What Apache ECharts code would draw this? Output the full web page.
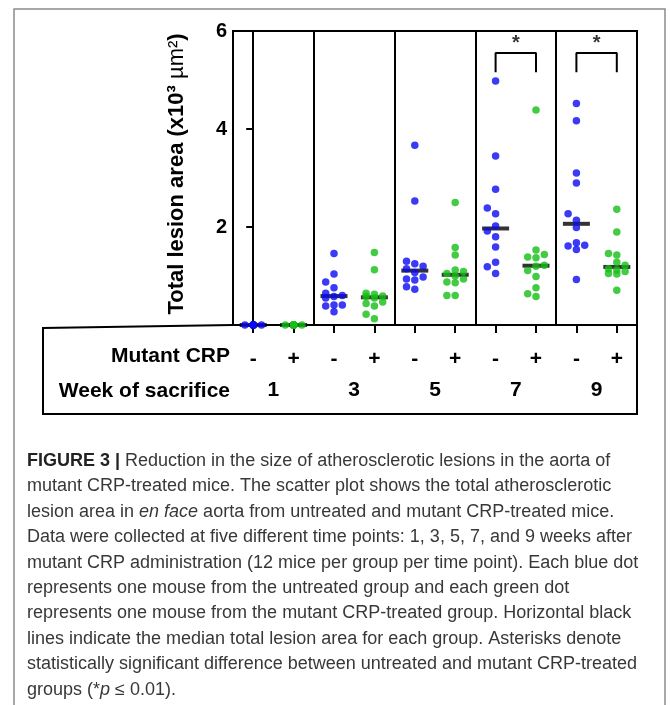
<!DOCTYPE html>
<html>
<head>
<meta charset="utf-8">
<script src="https://cdn.jsdelivr.net/npm/echarts@6/dist/echarts.min.js"></script>
<style>
html,body{margin:0;padding:0;background:#fff;}
#chart{width:670px;height:705px;}
</style>
</head>
<body>
<div id="chart"></div>
<script>
// ---- tick / category labels ----
const mutantLabels = ['-', '+', '-', '+', '-', '+', '-', '+', '-', '+'];
const weekLabels = ['1', '3', '5', '7', '9'];
const significantWeeks = ['7', '9'];

// ---- data: total lesion area (x10^3 µm^2), 12 mice per group ----
const wk1Untreated = [0, 0, 0, 0, 0, 0, 0, 0, 0, 0, 0, 0];
const wk1Treated   = [0, 0, 0, 0, 0, 0, 0, 0, 0, 0, 0, 0];
const wk3Untreated = [1.46, 1.04, 0.88, 0.76, 0.65, 0.58, 0.55, 0.60, 0.41, 0.41, 0.39, 0.27];
const wk3Treated   = [1.48, 1.13, 0.63, 0.65, 0.44, 0.47, 0.39, 0.22, 0.13, 0.59, 0.58, 0.55];
const wk5Untreated = [3.67, 2.53, 1.25, 1.30, 1.20, 1.15, 1.07, 0.94, 0.92, 0.98, 0.78, 0.73];
const wk5Treated   = [2.50, 1.58, 1.43, 1.12, 1.05, 1.09, 0.88, 0.86, 0.94, 0.60, 0.60, 1.00];
const wk7Untreated = [4.98, 3.45, 2.77, 2.39, 2.27, 2.02, 1.92, 1.80, 1.59, 1.28, 1.19, 1.05];
const wk7Treated   = [4.39, 1.53, 1.44, 1.39, 1.37, 1.20, 1.11, 0.99, 0.76, 0.64, 0.58, 1.22];
const wk9Untreated = [4.52, 4.17, 3.10, 2.90, 2.27, 2.14, 1.99, 1.68, 1.61, 1.63, 1.54, 0.93];
const wk9Treated   = [2.36, 1.90, 1.46, 1.43, 1.28, 1.22, 1.15, 1.12, 1.09, 1.05, 1.04, 0.71];

const untreatedGroups = [wk1Untreated, wk3Untreated, wk5Untreated, wk7Untreated, wk9Untreated];
const treatedGroups = [wk1Treated, wk3Treated, wk5Treated, wk7Treated, wk9Treated];

// ---- layout constants ----
const W = 670, H = 705;
const GL = 233, GR = 637, GT = 31, GB = 325;
const PX_PER_CAT = (GR - GL) / 10;
const PX_PER_UNIT = (GB - GT) / 6;
const BLUE = '#0a0af2';
const GREEN = '#14bf14';
const FONT = "'Liberation Sans', Arial, Helvetica, sans-serif";

function median(a) {
  const s = a.slice().sort((x, y) => x - y);
  const n = s.length;
  return n % 2 ? s[(n - 1) / 2] : (s[n / 2 - 1] + s[n / 2]) / 2;
}

// simple 3-column beeswarm layout around a category centre
function swarm(vals, center) {
  const STEP = 8.3, DIAM = 7;
  const placed = [], out = [];
  const order = vals.map((v, i) => i).sort((a, b) => vals[a] - vals[b]);
  for (const i of order) {
    const py = vals[i] * PX_PER_UNIT;
    let best = 0, bestD = -1;
    for (const c of [0, -1, 1]) {
      const px = c * STEP;
      let dmin = Infinity;
      for (const p of placed) dmin = Math.min(dmin, Math.hypot(p[0] - px, p[1] - py));
      if (dmin >= DIAM) { best = c; bestD = Infinity; break; }
      if (dmin > bestD) { bestD = dmin; best = c; }
    }
    placed.push([best * STEP, py]);
    out[i] = [center + best * STEP / PX_PER_CAT, vals[i]];
  }
  return out;
}

const blueData = [], greenData = [], medianData = [];
untreatedGroups.forEach((g, k) => {
  blueData.push(...swarm(g, 2 * k));
  medianData.push([2 * k, median(g)]);
});
treatedGroups.forEach((g, k) => {
  greenData.push(...swarm(g, 2 * k + 1));
  medianData.push([2 * k + 1, median(g)]);
});

const BR_TOP = 5.55, BR_LEG = 5.16, STAR_Y = 5.74;
const bracketData = [];
const starData = [];
significantWeeks.forEach(w => {
  const k = weekLabels.indexOf(w);
  const a = 2 * k, b = 2 * k + 1;
  if (bracketData.length) bracketData.push(['-', '-']);
  bracketData.push([a, BR_LEG], [a, BR_TOP], [b, BR_TOP], [b, BR_LEG]);
  starData.push([(a + b) / 2, STAR_Y]);
});

const chart = echarts.init(document.getElementById('chart'), null, {renderer: 'canvas', width: W, height: H});

const caption =
  '{b|FIGURE 3 |} Reduction in the size of atherosclerotic lesions in the aorta of\n' +
  'mutant CRP-treated mice. The scatter plot shows the total atherosclerotic\n' +
  'lesion area in {i|en face} aorta from untreated and mutant CRP-treated mice.\n' +
  'Data were collected at five different time points: 1, 3, 5, 7, and 9 weeks after\n' +
  'mutant CRP administration (12 mice per group per time point). Each blue dot\n' +
  'represents one mouse from the untreated group and each green dot\n' +
  'represents one mouse from the mutant CRP-treated group. Horizontal black\n' +
  'lines indicate the median total lesion area for each group. Asterisks denote\n' +
  'statistically significant difference between untreated and mutant CRP-treated\n' +
  'groups (*{i|p} ≤ 0.01).';

const CAP_FS = 18, CAP_LH = 25.4, CAP_COL = '#383838';

const option = {
  animation: false,
  backgroundColor: '#fff',
  grid: {left: GL, right: W - GR, top: GT, bottom: H - GB, show: true, borderColor: '#000', borderWidth: 2, backgroundColor: 'transparent'},
  xAxis: [
    {
      type: 'category', data: mutantLabels, position: 'bottom', boundaryGap: true,
      axisLine: {show: true, lineStyle: {color: '#000', width: 2}},
      axisTick: {show: true, alignWithLabel: true, length: 8, lineStyle: {color: '#000', width: 2}},
      axisLabel: {color: '#000', fontSize: 21, fontWeight: 'bold', fontFamily: FONT, margin: 24, interval: 0},
      splitLine: {show: false}
    },
    {
      type: 'category', data: weekLabels, position: 'bottom', boundaryGap: true,
      axisLine: {show: false}, axisTick: {show: false},
      axisLabel: {color: '#000', fontSize: 21, fontWeight: 'bold', fontFamily: FONT, margin: 55, interval: 0},
      splitLine: {show: true, interval: 0, lineStyle: {color: '#000', width: 2}}
    },
    {
      type: 'value', min: -0.5, max: 9.5, show: false, splitLine: {show: false}
    }
  ],
  yAxis: {
    type: 'value', min: 0, max: 6, interval: 2,
    axisLine: {show: true, lineStyle: {color: '#000', width: 2}},
    axisTick: {show: true, length: 7, lineStyle: {color: '#000', width: 2}},
    axisLabel: {color: '#000', fontSize: 20, fontWeight: 'bold', fontFamily: FONT, margin: 6,
      formatter: v => (v === 0 ? '' : String(v))},
    splitLine: {show: false}
  },
  series: [
    {
      name: 'median', type: 'scatter', xAxisIndex: 2, data: medianData, z: 2, clip: false,
      symbol: 'rect', symbolSize: [27, 4], itemStyle: {color: '#000'}, silent: true
    },
    {
      name: 'untreated', type: 'scatter', xAxisIndex: 2, data: blueData, z: 3, clip: false,
      symbol: 'circle', symbolSize: 7.5, itemStyle: {color: BLUE}
    },
    {
      name: 'mutant CRP', type: 'scatter', xAxisIndex: 2, data: greenData, z: 3, clip: false,
      symbol: 'circle', symbolSize: 7.5, itemStyle: {color: GREEN}
    },
    {
      name: 'bracket', type: 'line', xAxisIndex: 2, data: bracketData, symbol: 'none', z: 4,
      connectNulls: false, lineStyle: {color: '#000', width: 2}, clip: false
    },
    {
      name: 'star', type: 'scatter', xAxisIndex: 2, data: starData, symbolSize: 1, z: 4,
      itemStyle: {color: 'transparent'}, clip: false,
      label: {show: true, position: 'inside', formatter: '*', color: '#000', fontSize: 20, fontWeight: 'bold', fontFamily: FONT}
    }
  ],
  graphic: [
    // outer figure frame
    {type: 'rect', shape: {x: 14, y: 9, width: 651, height: 720}, style: {fill: 'none', stroke: '#8c8c8c', lineWidth: 1.5}, z: 0},
    // table box under the axis
    {type: 'polyline', shape: {points: [[GL, GB], [43, 328], [43, 414], [GR, 414], [GR, GB]]},
      style: {fill: 'none', stroke: '#000', lineWidth: 2}, z: 5},
    {type: 'text', x: GL - 3, y: 356, style: {text: 'Mutant CRP', fill: '#000', font: 'bold 21px ' + FONT, textAlign: 'right', textVerticalAlign: 'middle'}},
    {type: 'text', x: GL - 3, y: 391, style: {text: 'Week of sacrifice', fill: '#000', font: 'bold 21px ' + FONT, textAlign: 'right', textVerticalAlign: 'middle'}},
    // y axis title
    {type: 'text', x: 177, y: 174, rotation: Math.PI / 2,
      style: {text: '{b|Total lesion area (x10³ }{n|µm²}{b|)}', textAlign: 'center', textVerticalAlign: 'middle',
        rich: {
          b: {fontSize: 22, fontWeight: 'bold', fontFamily: FONT, fill: '#000'},
          n: {fontSize: 22, fontWeight: 'normal', fontFamily: FONT, fill: '#000'}
        }}},
    // caption
    {type: 'text', x: 27, y: 461 - CAP_LH / 2,
      style: {text: caption, fill: CAP_COL, fontSize: CAP_FS, fontFamily: FONT, lineHeight: CAP_LH,
        textAlign: 'left', textVerticalAlign: 'top',
        rich: {
          b: {fontSize: CAP_FS, fontFamily: FONT, fontWeight: 'bold', fill: '#222', lineHeight: CAP_LH},
          i: {fontSize: CAP_FS, fontFamily: FONT, fontStyle: 'italic', fill: CAP_COL, lineHeight: CAP_LH}
        }}}
  ]
};
chart.setOption(option);
</script>
</body>
</html>
